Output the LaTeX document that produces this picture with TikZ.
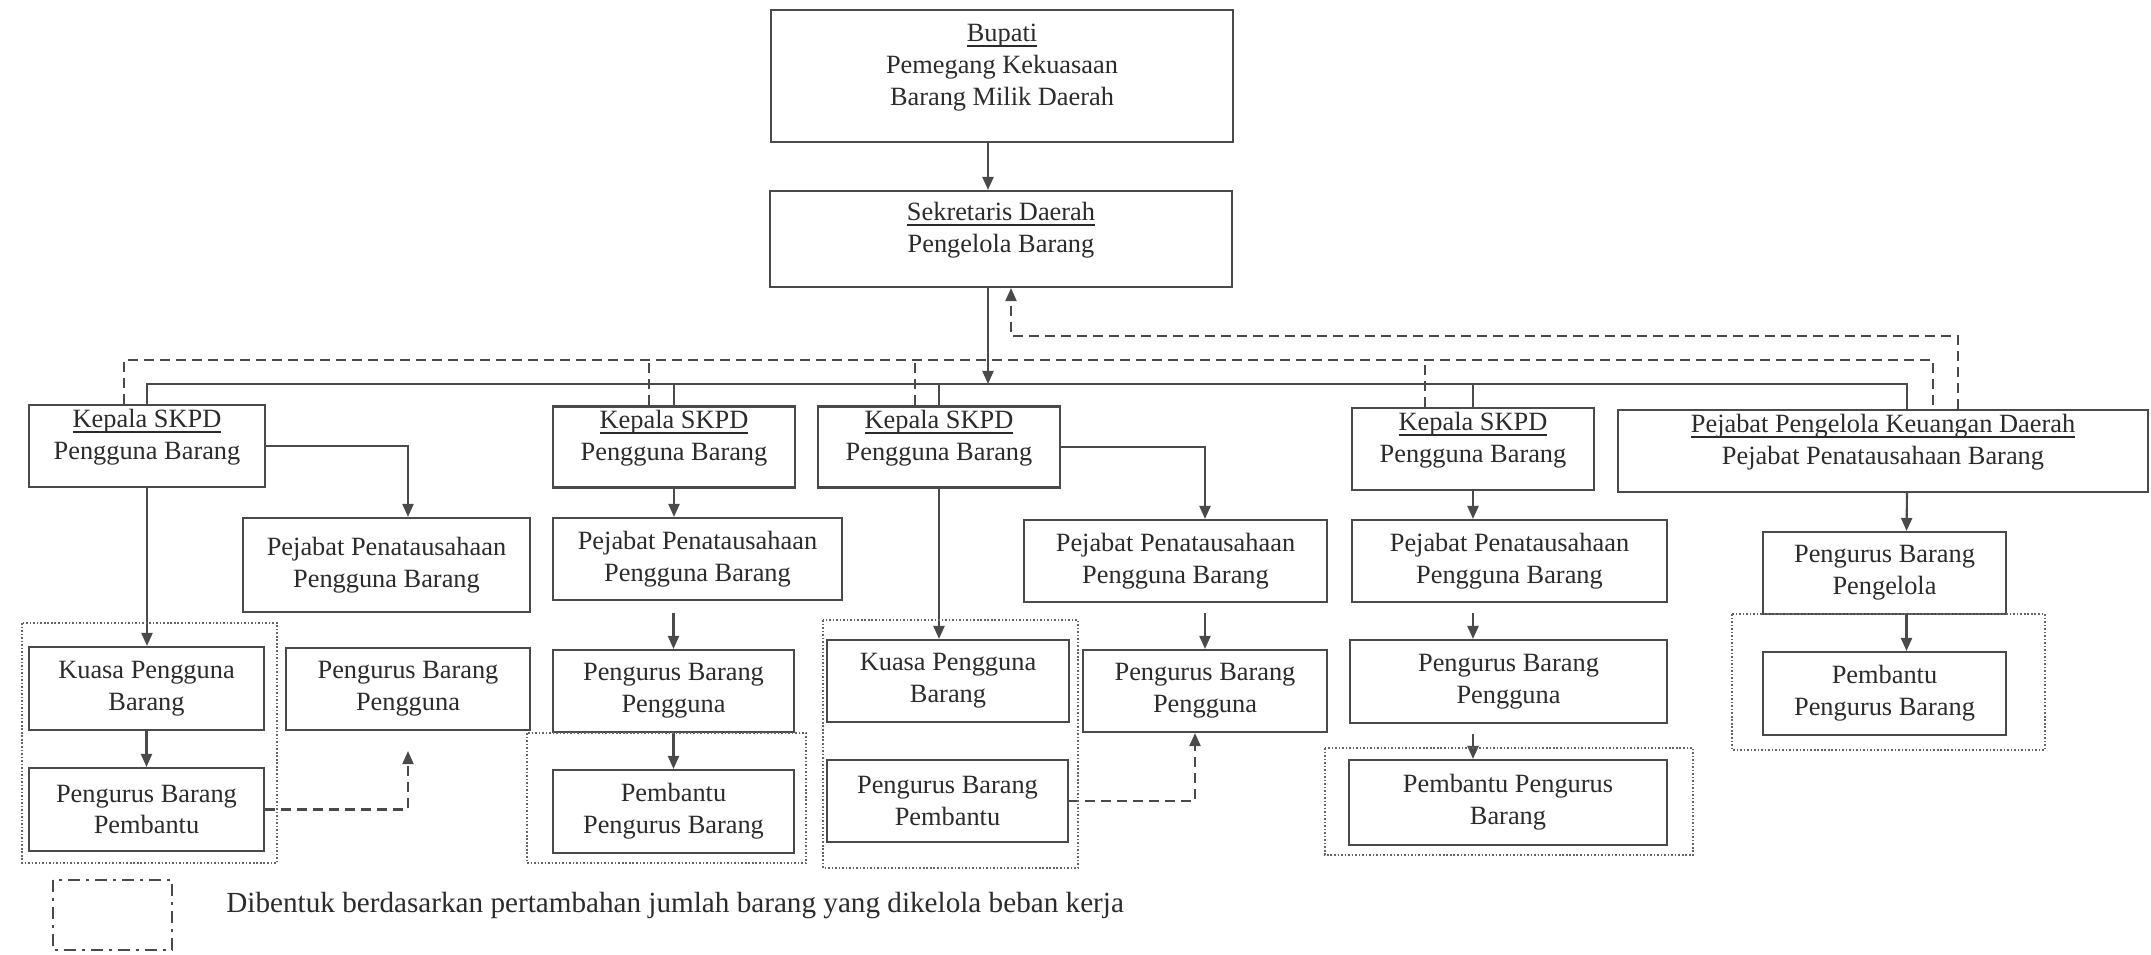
\documentclass[tikz,border=0pt]{standalone}
\usepackage{fontspec}
\setmainfont{Liberation Serif}
\usetikzlibrary{arrows.meta,calc}
\definecolor{abu}{HTML}{4A4A4A}
\definecolor{teks}{HTML}{2B2B2B}
\newcommand{\garisbawah}[1]{\underline{\smash{#1}}}

\begin{document}
\begin{tikzpicture}[x=0.1mm,y=-0.1mm,
  kotak/.style={draw=abu,line width=0.6pt,inner sep=0pt,align=center,text=teks,
    font=\fontsize{7.5}{9.1}\selectfont},
  garis/.style={draw=abu,line width=0.6pt},
  panah/.style={-{Triangle[length=1.3mm,width=1.1mm]}},
  putus/.style={garis,dash pattern=on 1mm off 0.6mm},
  kelompok/.style={draw=abu!85,line width=0.7pt,dash pattern=on 0.45pt off 0.55pt},
  ]
  %batas gambar
  	\useasboundingbox (0,0) rectangle (2151,955);

  %pimpinan
  	\node[kotak,minimum width=46.2mm,minimum height=13.2mm] (bupati) at (1002,76)
  		{\garisbawah{Bupati}\\Pemegang Kekuasaan\\Barang Milik Daerah};
  	\node[kotak,minimum width=46.2mm,minimum height=9.6mm] (sek) at (1001,239)
  		{\garisbawah{Sekretaris Daerah}\\Pengelola Barang};

  %kepala SKPD
  	\node[kotak,minimum width=23.6mm,minimum height=8.2mm] (kep1) at (147,446) {\garisbawah{Kepala SKPD}\\Pengguna Barang};
  	\node[kotak,minimum width=24.2mm,minimum height=8.1mm] (kep2) at (674,447) {\garisbawah{Kepala SKPD}\\Pengguna Barang};
  	\node[kotak,minimum width=24.2mm,minimum height=8.1mm] (kep3) at (939,447) {\garisbawah{Kepala SKPD}\\Pengguna Barang};
  	\node[kotak,minimum width=24.2mm,minimum height=8.2mm] (kep4) at (1473,449) {\garisbawah{Kepala SKPD}\\Pengguna Barang};
  	\node[kotak,minimum width=53mm,minimum height=8.2mm] (ppkd) at (1883,451)
  		{\garisbawah{Pejabat Pengelola Keuangan Daerah}\\Pejabat Penatausahaan Barang};

  %pejabat penatausahaan
  	\node[kotak,minimum width=28.7mm,minimum height=9.4mm] (ppb1) at (386.5,565) {Pejabat Penatausahaan\\Pengguna Barang};
  	\node[kotak,minimum width=28.9mm,minimum height=8.2mm] (ppb2) at (697.5,559) {Pejabat Penatausahaan\\Pengguna Barang};
  	\node[kotak,minimum width=30.3mm,minimum height=8.2mm] (ppb3) at (1175.5,561) {Pejabat Penatausahaan\\Pengguna Barang};
  	\node[kotak,minimum width=31.5mm,minimum height=8.2mm] (ppb4) at (1509.5,561) {Pejabat Penatausahaan\\Pengguna Barang};
  	\node[kotak,minimum width=24.3mm,minimum height=8.2mm] (pbpel) at (1884.5,573) {Pengurus Barang\\Pengelola};

  %pengurus barang
  	\node[kotak,minimum width=23.5mm,minimum height=8.3mm] (kuasa1) at (146.5,688.5) {Kuasa Pengguna\\Barang};
  	\node[kotak,minimum width=23.5mm,minimum height=8.3mm] (pbpem1) at (146.5,809.5) {Pengurus Barang\\Pembantu};
  	\node[kotak,minimum width=24.4mm,minimum height=8.2mm] (pbpg1) at (408,689) {Pengurus Barang\\Pengguna};
  	\node[kotak,minimum width=24.1mm,minimum height=8.2mm] (pbpg2) at (673.5,691) {Pengurus Barang\\Pengguna};
  	\node[kotak,minimum width=24.1mm,minimum height=8.3mm] (pembpb2) at (673.5,811.5) {Pembantu\\Pengurus Barang};
  	\node[kotak,minimum width=24.2mm,minimum height=8.2mm] (kuasa2) at (948,681) {Kuasa Pengguna\\Barang};
  	\node[kotak,minimum width=24.1mm,minimum height=8.2mm] (pbpem2) at (947.5,801) {Pengurus Barang\\Pembantu};
  	\node[kotak,minimum width=24.4mm,minimum height=8.2mm] (pbpg3) at (1205,691) {Pengurus Barang\\Pengguna};
  	\node[kotak,minimum width=31.7mm,minimum height=8.3mm] (pbpg4) at (1508.5,681.5) {Pengurus Barang\\Pengguna};
  	\node[kotak,minimum width=31.8mm,minimum height=8.5mm] (pembpb4) at (1508,802.5) {Pembantu Pengurus\\Barang};
  	\node[kotak,minimum width=24.3mm,minimum height=8.3mm] (pembpb5) at (1884.5,693.5) {Pembantu\\Pengurus Barang};

  %titik bantu garis
  	\coordinate (bus) at (988,384);
  	\coordinate (putus1) at (988,360);
  	\coordinate (putus2) at (1011,336);

  %garis komando
  	\draw[garis,panah] ($(bupati.south)+(-14,0)$) -- ($(sek.north)+(-13,0)$);
  	\draw[garis,panah] ($(sek.south)+(-13,0)$) -- (bus);
  	\draw[garis] (kep1.north) |- (bus) -| ($(ppkd.north)+(24,0)$);
  	\draw[garis] (kep2.north) -- (kep2.north |- bus);
  	\draw[garis] (kep3.north) -- (kep3.north |- bus);
  	\draw[garis] (kep4.north) -- (kep4.north |- bus);

  %garis koordinasi
  	\draw[putus] ($(kep1.north)+(-23,0)$) |- (putus1) -| ($(ppkd.north)+(50,0)$);
  	\draw[putus] ($(kep2.north)+(-25,0)$) -- ($(kep2.north |- putus1)+(-25,0)$);
  	\draw[putus] ($(kep3.north)+(-24,0)$) -- ($(kep3.north |- putus1)+(-24,0)$);
  	\draw[putus] ($(kep4.north)+(-48,0)$) -- ($(kep4.north |- putus1)+(-48,0)$);
  	\draw[putus,panah] ($(ppkd.north)+(75,0)$) |- (putus2) -- ($(sek.south)+(10,0)$);

  %kolom 1
  	\draw[garis,panah] (kep1.east) -| (pbpg1 |- ppb1.north);
  	\draw[garis,panah] (kep1.south) -- (kep1.south |- kuasa1.north);
  	\draw[garis,panah] (kuasa1) -- (pbpem1);
  	\draw[putus,panah,shorten >=2mm] (pbpem1.east) -| (pbpg1.south);

  %kolom 2
  	\draw[garis,panah] (kep2.south) -- (kep2.south |- ppb2.north);
  	\draw[garis,panah,shorten <=1.2mm] (ppb2.south -| pbpg2) -- (pbpg2.north);
  	\draw[garis,panah] (pbpg2) -- (pembpb2);

  %kolom 3
  	\draw[garis,panah] (kep3.south) -- (kep3.south |- kuasa2.north);
  	\draw[garis,panah] (kep3.east) -| (pbpg3 |- ppb3.north);
  	\draw[garis,panah,shorten <=1mm] (ppb3.south -| pbpg3) -- (pbpg3.north);
  	\draw[putus,panah] (pbpem2.east) -| ($(pbpg3.south)+(-10,0)$);

  %kolom 4
  	\draw[garis,panah] (kep4.south) -- (kep4.south |- ppb4.north);
  	\draw[garis,panah,shorten <=1mm] (ppb4.south -| kep4) -- (kep4 |- pbpg4.north);
  	\draw[garis,panah,shorten <=1mm] (pbpg4.south -| kep4) -- (kep4 |- pembpb4.north);

  %kolom 5
  	\draw[garis,panah] ($(ppkd.south)+(24,0)$) -- ($(pbpel.north)+(22,0)$);
  	\draw[garis,panah] ($(pbpel.south)+(22,0)$) -- ($(pembpb5.north)+(22,0)$);

  %kelompok bertitik
  	\draw[kelompok] (22,623) rectangle (277,863);
  	\draw[kelompok] (527,733) rectangle (806,863);
  	\draw[kelompok] (823,620) rectangle (1078,868);
  	\draw[kelompok] (1325,748) rectangle (1693,855);
  	\draw[kelompok] (1732,614) rectangle (2045,750);

  %keterangan
  	\draw[garis,line width=0.5pt,dash pattern=on 1.2mm off 0.6mm on 0.3mm off 0.6mm] (53,880) rectangle (172,950);
  	\node[anchor=base west,text=teks,font=\fontsize{8.3}{10}\selectfont] (ket) at (214,912)
  		{Dibentuk berdasarkan pertambahan jumlah barang yang dikelola beban kerja};
\end{tikzpicture}
\end{document}
